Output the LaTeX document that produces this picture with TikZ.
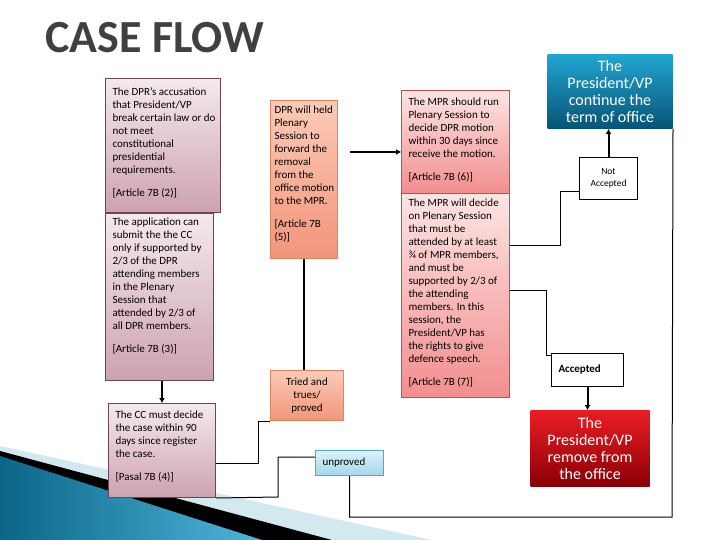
\documentclass[tikz,border=0pt]{standalone}
\usepackage{fontspec}
\setmainfont{Carlito}
\definecolor{TitleGray}{HTML}{404040}
\definecolor{MauveTop}{HTML}{F4E9ED}
\definecolor{MauveBottom}{HTML}{CDA2B0}
\definecolor{MauveLine}{HTML}{6F4256}
\definecolor{SalmonTop}{HTML}{FBCBB7}
\definecolor{SalmonBottom}{HTML}{F2957A}
\definecolor{SalmonLine}{HTML}{E3825F}
\definecolor{RoseTop}{HTML}{FDE4E4}
\definecolor{RoseBottom}{HTML}{F28E8E}
\definecolor{RoseLine}{HTML}{C0504D}
\definecolor{IceTop}{HTML}{DDF2FA}
\definecolor{IceBottom}{HTML}{A1D7EA}
\definecolor{IceLine}{HTML}{4BACC6}
\definecolor{TealTop}{HTML}{22A5D2}
\definecolor{TealBottom}{HTML}{075475}
\definecolor{RedTop}{HTML}{EC1C24}
\definecolor{RedBottom}{HTML}{8A0006}
\definecolor{SwooshDark}{HTML}{0B6688}
\definecolor{SwooshLight}{HTML}{4FB5DA}
\definecolor{SwooshPale}{HTML}{D3E9F0}
\usetikzlibrary{arrows.meta, positioning, calc}
\tikzset{
  card/.style={anchor=north west, inner xsep=7pt, inner ysep=0pt, line width=1pt, font=\fontsize{11}{13}\selectfont},
  mauvecard/.style={card, draw=MauveLine, top color=MauveTop, bottom color=MauveBottom},
  salmoncard/.style={card, draw=SalmonLine, top color=SalmonTop, bottom color=SalmonBottom},
  rosecard/.style={card, draw=RoseLine, top color=RoseTop, bottom color=RoseBottom},
  link/.style={draw=black, line width=1pt},
  arrow/.style={-{Latex[length=5pt, width=6pt]}, line width=2pt, draw=black}
}
\newcommand{\cardtext}[4]{\parbox[t][#2][t]{#1}{\vspace*{#3}\begin{tabular}[t]{@{}l@{}}#4\end{tabular}}}

\begin{document}
\begin{tikzpicture}[x=1pt, y=-1pt,
  flat/.style={anchor=north west, align=center, inner sep=2pt, line width=1pt},
  bigcard/.style={flat, text=white, font=\fontsize{16}{17}\selectfont},
  plaincard/.style={flat, draw=black, fill=white}
]
\useasboundingbox (0,0) rectangle (720,540);

\fill[SwooshPale] (0,446) -- (432,540) -- (0,540) -- cycle;
\fill[black] (0,451) -- (332,540) -- (0,540) -- cycle;
\shade[left color=SwooshDark, right color=SwooshLight] (0,456) -- (262,540) -- (0,540) -- cycle;

\node[anchor=base west, inner sep=0pt, font=\fontsize{46}{46}\selectfont\bfseries, text=TitleGray] (title) at (45,53) {CASE FLOW};

\node[mauvecard] (accuse) at (105,78) {\cardtext{101pt}{134pt}{8pt}{The DPR’s accusation\\ that President/VP\\ break certain law or do\\ not meet\\ constitutional\\ presidential\\ requirements.\\[10pt] [Article 7B (2)]}};
\node[mauvecard] (appl) at (105,213) {\cardtext{94pt}{167pt}{3pt}{The application can\\ submit the the CC\\ only if supported by\\ 2/3 of the DPR\\ attending members\\ in the Plenary\\ Session that\\ attended by 2/3 of\\ all DPR members.\\[10pt] [Article 7B (3)]}};
\node[mauvecard] (decide) at (108,403) {\cardtext{93pt}{94pt}{6pt}{The CC must decide\\ the case within 90\\ days since register\\ the case.\\[10pt] [Pasal 7B (4)]}};

\node[salmoncard, inner xsep=4pt] (forward) at (270,100) {\cardtext{59pt}{158pt}{4pt}{DPR will held\\ Plenary\\ Session to\\ forward the\\ removal\\ from the\\ office motion\\ to the MPR.\\[10pt] [Article 7B\\ (5)]}};
\node[salmoncard, align=center, inner xsep=2pt, minimum width=73pt, minimum height=50pt] (tried) at (270,370) {Tried and\\ trues/\\ proved};
\node[card, draw=IceLine, top color=IceTop, bottom color=IceBottom, text width=54pt, align=left, minimum height=25pt] (unproved) at (315,450) {unproved};

\node[rosecard] (run) at (401,90) {\cardtext{94pt}{103pt}{6pt}{The MPR should run\\ Plenary Session to\\ decide DPR motion\\ within 30 days since\\ receive the motion.\\[10pt] [Article 7B (6)]}};
\node[rosecard] (vote) at (401,193) {\cardtext{94pt}{204pt}{4pt}{The MPR will decide\\ on Plenary Session\\ that must be\\ attended by at least\\ ¾ of MPR members,\\ and must be\\ supported by 2/3 of\\ the attending\\ members. In this\\ session, the\\ President/VP has\\ the rights to give\\ defence speech.\\[10pt] [Article 7B (7)]}};

\node[bigcard, top color=TealTop, bottom color=TealBottom, minimum width=125pt, minimum height=74pt] (term) at (547,54) {The\\ President/VP\\ continue the\\ term of office};
\node[plaincard, font=\fontsize{9.5}{12}\selectfont, minimum width=58pt, minimum height=42pt] (notacc) at (579,157) {Not\\ Accepted};
\node[plaincard, font=\fontsize{11}{13}\selectfont\bfseries, text width=58pt, align=left, inner xsep=7pt, minimum height=33pt] (accept) at (551,353) {Accepted};
\node[bigcard, top color=RedTop, bottom color=RedBottom, minimum width=119pt, minimum height=76pt] (remove) at (530,410) {The\\ President/VP\\ remove from\\ the office};

\draw[arrow] (decide.north |- appl.south) -- (decide.north);
\draw[arrow] ([xshift=12pt]forward.east |- 0,152) -- (run.west |- 0,152);
\draw[line width=2pt] (forward.south) -- (forward.south |- tried.north);
\draw[link] (decide.east |- 0,463) -- (258,463) |- (tried.south west);
\draw[link] (decide.south east) -- (278,497) |- (unproved.west |- 0,457);
\draw[link] (unproved.south) |- (672,517) -- (term.south east);
\draw[link] (vote.east |- 0,245) -- (560,245) |- (notacc.west |- 0,192);
\draw[link] (vote.east |- 0,290) -- (546,290) |- (accept.west |- 0,355);
\draw[arrow] (notacc.north) -- (notacc.north |- term.south);
\draw[arrow] (accept.south) -- (accept.south |- remove.north);
\end{tikzpicture}
\end{document}
